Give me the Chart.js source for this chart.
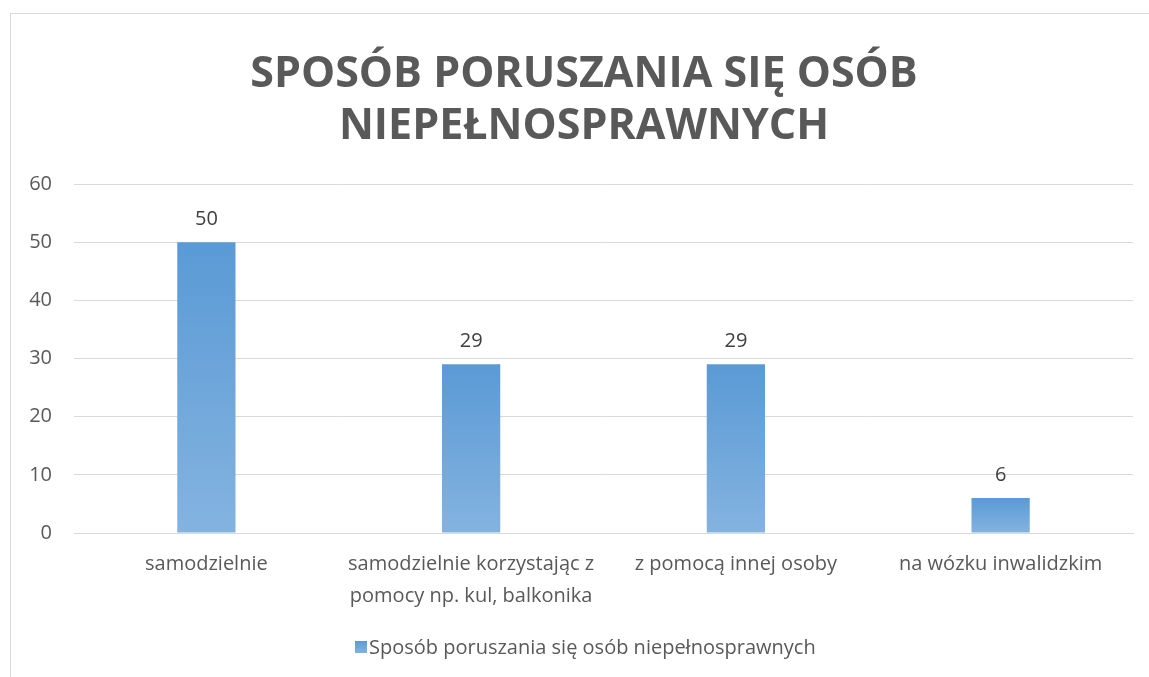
<!DOCTYPE html>
<html>
<head>
<meta charset="utf-8">
<script src="https://cdn.jsdelivr.net/npm/chart.js@4"></script>
<style>
  html, body { margin: 0; padding: 0; background: #fff; }
  #frame {
    position: absolute; left: 10px; top: 13px;
    width: 1160px; height: 700px;
    border: 1px solid #d9d9d9; box-sizing: border-box;
  }
  #wrap { position: absolute; left: 10px; top: 13px; width: 1139px; height: 664px; }
</style>
</head>
<body>
<div id="frame"></div>
<div id="wrap"><canvas id="chart"></canvas></div>
<script>
const categories = [
  "samodzielnie",
  ["samodzielnie korzystając z", "pomocy np. kul, balkonika"],
  "z pomocą innej osoby",
  "na wózku inwalidzkim"
];
const values = [50, 29, 29, 6];
const seriesName = "Sposób poruszania się osób niepełnosprawnych";
const titleLines = ["SPOSÓB PORUSZANIA SIĘ OSÓB", "NIEPEŁNOSPRAWNYCH"];

const FONT = "'Open Sans', sans-serif";

function barGradient(ctx, top, bottom) {
  const g = ctx.createLinearGradient(0, top, 0, bottom);
  g.addColorStop(0, "#5a9ad5");
  g.addColorStop(1, "#84b3e0");
  return g;
}

// every bar gets its own gradient, from its top down to zero
function barFill(context) {
  const chart = context.chart;
  const y = chart.scales.y;
  if (!chart.chartArea || !y || context.raw === undefined) return "#5b9bd5";
  const top = y.getPixelForValue(context.raw);
  const bottom = y.getPixelForValue(0);
  return barGradient(chart.ctx, top, bottom);
}

// value labels over the bars
const valueLabels = {
  id: "valueLabels",
  afterDatasetsDraw(chart) {
    const { ctx } = chart;
    const meta = chart.getDatasetMeta(0);
    ctx.save();
    ctx.font = "20px " + FONT;
    ctx.fillStyle = "#404040";
    ctx.textAlign = "center";
    ctx.textBaseline = "middle";
    meta.data.forEach((bar, i) => {
      ctx.fillText(values[i], bar.x, bar.y - 23);
    });
    ctx.restore();
  }
};

// title and legend drawn by hand: in the original they sit a bit right of centre
const titleAndLegend = {
  id: "titleAndLegend",
  afterDraw(chart) {
    const { ctx } = chart;
    ctx.save();
    ctx.fillStyle = "#595959";
    ctx.textAlign = "center";
    ctx.textBaseline = "middle";
    ctx.font = "bold 43px " + FONT;
    titleLines.forEach((t, i) => ctx.fillText(t, 574, 62 + i * 52));

    ctx.fillStyle = barGradient(ctx, 628, 640);
    ctx.fillRect(345, 628, 12, 12);
    ctx.fillStyle = "#595959";
    ctx.textAlign = "left";
    ctx.font = "20px " + FONT;
    ctx.fillText(seriesName, 359, 635);
    ctx.restore();
  }
};

new Chart(document.getElementById("chart"), {
  type: "bar",
  data: {
    labels: categories,
    datasets: [{
      label: seriesName,
      data: values,
      backgroundColor: barFill,
      borderWidth: 0,
      categoryPercentage: 1,
      barPercentage: 0.22
    }]
  },
  options: {
    responsive: true,
    maintainAspectRatio: false,
    animation: false,
    layout: { padding: { left: 0, right: 16, top: 171, bottom: 50 } },
    plugins: {
      title: { display: false },
      legend: { display: false },
      tooltip: { enabled: false }
    },
    scales: {
      x: {
        grid: { display: false, drawTicks: false },
        border: { color: "#d9d9d9", width: 1 },
        ticks: {
          color: "#595959",
          font: { family: FONT, size: 20, lineHeight: 1.6 },
          padding: 15,
          maxRotation: 0,
          autoSkip: false
        }
      },
      y: {
        min: 0,
        max: 60,
        grid: { color: "#d9d9d9", lineWidth: 1, drawTicks: false },
        border: { display: false },
        ticks: {
          stepSize: 10,
          color: "#595959",
          font: { family: FONT, size: 20 },
          padding: 22
        },
        afterFit(scale) { scale.width = 64; }
      }
    }
  },
  plugins: [valueLabels, titleAndLegend]
});
</script>
</body>
</html>
